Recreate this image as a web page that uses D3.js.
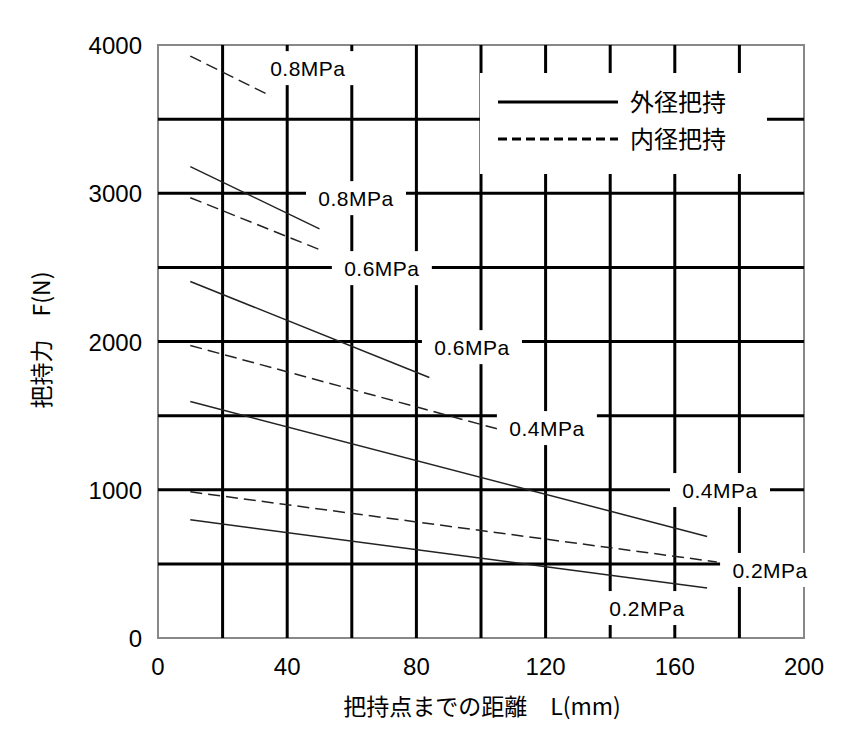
<!DOCTYPE html><html><head><meta charset="utf-8"><script src="https://cdn.jsdelivr.net/npm/d3@7"></script>
<style>body{margin:0;background:#fff}</style></head><body><svg id="c" width="845" height="750"></svg>
<script>
const xTicks=[0,40,80,120,160,200];
const yTicks=[0,1000,2000,3000,4000];
const xGrid=[20,40,60,80,100,120,140,160,180];
const yGrid=[500,1000,1500,2000,2500,3000,3500];
const series=[
 {name:"外径 0.8MPa",dash:false,pts:[[10,3180],[50,2760]]},
 {name:"内径 0.8MPa",dash:true,pts:[[10,3925],[35,3655]]},
 {name:"内径 0.6MPa",dash:true,pts:[[10,2970],[50,2620]]},
 {name:"外径 0.6MPa",dash:false,pts:[[10,2405],[84,1757]]},
 {name:"内径 0.4MPa",dash:true,pts:[[10,1973],[106,1405]]},
 {name:"外径 0.4MPa",dash:false,pts:[[10,1595],[170,685]]},
 {name:"内径 0.2MPa",dash:true,pts:[[10,986],[173,513]]},
 {name:"外径 0.2MPa",dash:false,pts:[[10,797],[170,338]]}
];
const labels=[["0.8MPa",46.4,3844],["0.8MPa",61.3,2967],["0.6MPa",69.3,2495],["0.6MPa",97.2,1962],["0.4MPa",120.4,1416],["0.4MPa",174,998],["0.2MPa",189.5,459],["0.2MPa",151.4,202]];
const legend=[["外径把持",false],["内径把持",true]];
const svg=d3.select("#c");
const x=d3.scaleLinear().domain([0,200]).range([158,804]);
const y=d3.scaleLinear().domain([0,4000]).range([638,45]);
const f="'Noto Sans CJK JP',sans-serif";
const a="Arial,'Liberation Sans',sans-serif";
svg.append("rect").attr("x",158).attr("y",45).attr("width",646).attr("height",593).attr("fill","none").attr("stroke","#888").attr("stroke-width",2);
svg.selectAll(".vg").data(xGrid).join("line").attr("x1",d=>x(d)).attr("x2",d=>x(d)).attr("y1",y(0)).attr("y2",y(4000)).attr("stroke","#000").attr("stroke-width",3);
svg.selectAll(".hg").data(yGrid).join("line").attr("y1",d=>y(d)).attr("y2",d=>y(d)).attr("x1",x(0)).attr("x2",x(200)).attr("stroke","#000").attr("stroke-width",3);
svg.append("rect").attr("x",480).attr("y",73).attr("width",287).attr("height",101).attr("fill","#fff");
legend.forEach((l,i)=>{const yy=102+i*37;
 svg.append("line").attr("x1",498).attr("x2",618).attr("y1",yy).attr("y2",yy).attr("stroke","#000").attr("stroke-width",3).attr("stroke-dasharray",l[1]?"9,5":null);
 svg.append("text").attr("x",630).attr("y",yy+9).text(l[0]).attr("font-family",f).attr("font-size",24);});
const line=d3.line().x(d=>x(d[0])).y(d=>y(d[1]));
svg.selectAll(".s").data(series).join("path").attr("d",d=>line(d.pts)).attr("fill","none").attr("stroke","#222").attr("stroke-width",1.5).attr("stroke-dasharray",d=>d.dash?"12,6":null);
labels.forEach(l=>{const cx=x(l[1]),cy=y(l[2]);
 svg.append("rect").attr("x",cx-50).attr("y",cy-17).attr("width",100).attr("height",34).attr("fill","#fff");
 svg.append("text").attr("x",cx).attr("y",cy+8).attr("text-anchor","middle").text(l[0]).attr("font-family",a).attr("font-size",21).attr("letter-spacing",0.5);});
svg.selectAll(".xt").data(xTicks).join("text").attr("x",d=>x(d)).attr("y",675).attr("text-anchor","middle").text(d=>d).attr("font-family",a).attr("font-size",24);
svg.selectAll(".yt").data(yTicks).join("text").attr("x",142).attr("y",d=>y(d)+9).attr("text-anchor","end").text(d=>d).attr("font-family",a).attr("font-size",24);
svg.append("text").attr("x",482).attr("y",715).attr("text-anchor","middle").text("把持点までの距離　L(mm)").attr("font-family",f).attr("font-size",23);
svg.append("text").attr("transform","translate(50,340) rotate(-90)").attr("text-anchor","middle").text("把持力　F(N)").attr("font-family",f).attr("font-size",23);
</script></body></html>
